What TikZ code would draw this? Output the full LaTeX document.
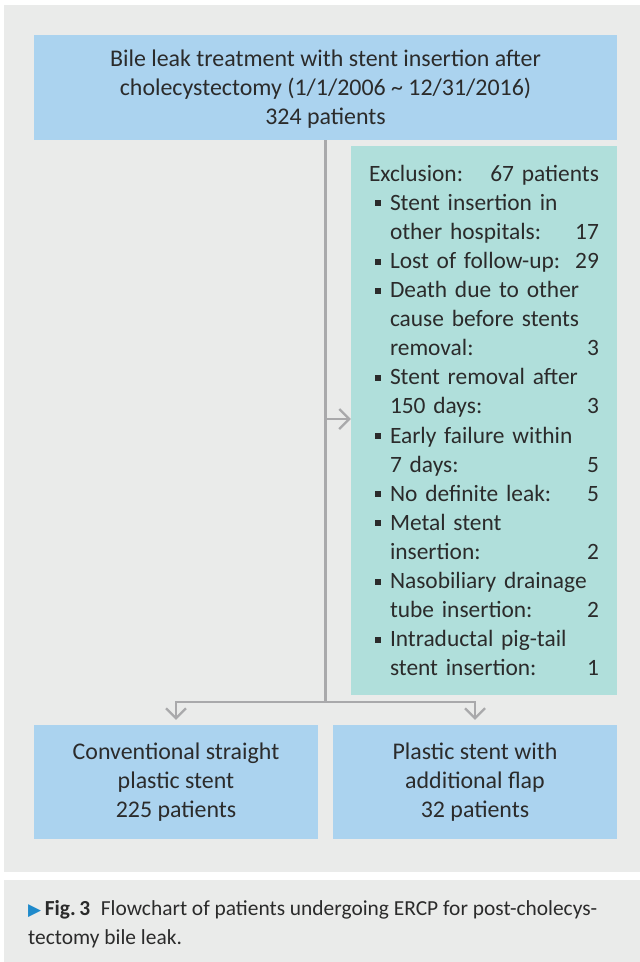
\documentclass[tikz,border=0pt]{standalone}
\usepackage{fontspec}
\setmainfont{Carlito}
\newfontfamily\symfont{DejaVu Sans}
\usetikzlibrary{arrows.meta}

\definecolor{panelgray}{HTML}{EAEBEA}
\definecolor{boxblue}{HTML}{ABD3EF}
\definecolor{boxteal}{HTML}{B0DFDB}
\definecolor{linegray}{HTML}{A9A9AB}
\definecolor{textdark}{HTML}{2B2B2B}
\definecolor{figblue}{HTML}{1F8ACB}

\newcommand{\exbul}{\hspace*{6bp}\rule[4bp]{6bp}{6bp}\hspace{9bp}}
\newcommand{\exind}{\hspace*{21bp}}

\tikzset{
  bluebox/.style={fill=boxblue, text=textdark, align=center, inner sep=0pt,
    minimum width=284bp, minimum height=114bp, font=\fontsize{24}{29}\selectfont},
  exclbox/.style={fill=boxteal, text=textdark, align=left, inner sep=0pt,
    font=\fontsize{23.5}{29.2}\selectfont},
  link/.style={draw=linegray, line width=2.2bp},
  arrowed/.style={link, -{Straight Barb[length=10bp,width=20bp]}}
}

\begin{document}
\begin{tikzpicture}[x=1bp, y=-1bp]
	\useasboundingbox (0,0) rectangle (640,962);
	\fill[white] (0,0) rectangle (640,962);
	\fill[panelgray] (4,5) rectangle (640,872);
	\fill[panelgray] (4,880) rectangle (640,962);

	% boxes
	\node[bluebox, minimum width=583bp, minimum height=105bp, text depth=-4bp] (top) at (325.5,87.5)
		{Bile leak treatment with stent insertion after\\ cholecystectomy (1/1/2006 \textasciitilde\ 12/31/2016)\\ 324 patients};
	\node[exclbox, minimum width=266bp, minimum height=549bp, text width=230bp] (excl) at (484,420.5)
		{Exclusion:\hfill 67 patients\\
		\exbul Stent insertion in\\
		\exind other hospitals:\hfill 17\\
		\exbul Lost of follow-up:\hfill 29\\
		\exbul Death due to other\\
		\exind cause before stents\\
		\exind removal:\hfill 3\\
		\exbul Stent removal after\\
		\exind 150 days:\hfill 3\\
		\exbul Early failure within\\
		\exind 7 days:\hfill 5\\
		\exbul No definite leak:\hfill 5\\
		\exbul Metal stent\\
		\exind insertion:\hfill 2\\
		\exbul Nasobiliary drainage\\
		\exind tube insertion:\hfill 2\\
		\exbul Intraductal pig-tail\\
		\exind stent insertion:\hfill 1};
	\node[bluebox] (conv) at (176,782) {Conventional straight\\ plastic stent\\ 225 patients};
	\node[bluebox] (flap) at (475,782) {Plastic stent with\\ additional flap\\ 32 patients};

	% connectors
	\coordinate (fork) at (top.south |- 0,702);
	\coordinate (side) at (top.south |- 0,419);
	\draw[link] (top.south) -- (fork);
	\draw[arrowed] (side) -- (excl.west |- side);
	\draw[arrowed, shorten >=5bp] (fork) -| (conv.north);
	\draw[arrowed, shorten >=5bp] (fork) -| (flap.north);

	% caption
	\node[anchor=north west, align=left, inner sep=0pt, text=textdark,
		font=\fontsize{21.5}{29}\selectfont] (caption) at (28,900)
		{{\color{figblue}\fontsize{17}{17}\symfont ▶}\,\textbf{Fig.\,3}\enspace Flowchart of patients undergoing ERCP for post-cholecys-\\ tectomy bile leak.};
\end{tikzpicture}
\end{document}
